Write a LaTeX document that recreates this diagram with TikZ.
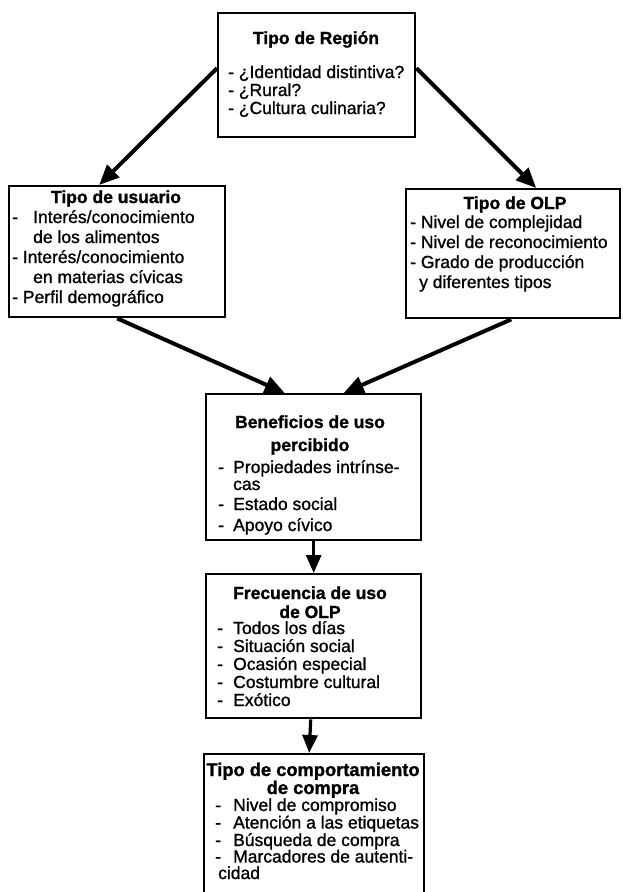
\documentclass[tikz,border=0pt]{standalone}
\usepackage{fontspec}
\setmainfont{Liberation Sans}
\newfontfamily\itemfont{Liberation Sans}[FakeBold=1.1]
\newfontfamily\titlefont{Liberation Sans Bold}[FakeBold=1.3]
\usetikzlibrary{arrows.meta,calc}

% dash followed by a fixed gap before the item text
\newcommand{\dl}[1][15pt]{\makebox[#1][l]{-}}

\begin{document}
\begin{tikzpicture}[x=1pt,y=-1pt,
  box/.style={draw, line width=2.4pt, rectangle, inner sep=0pt, anchor=north west},
  ttl/.style={font=\titlefont\fontsize{17.5}{#1}\selectfont, align=center, inner sep=0pt, anchor=base},
  ttl/.default=19,
  itm/.style={font=\itemfont\fontsize{17.5}{#1}\selectfont, align=left, inner sep=0pt, anchor=base west},
  arr/.style={line width=4pt, -{Triangle[length=20pt,width=17pt]}},
  varr/.style={line width=3.2pt, -{Triangle[length=18pt,width=15pt]}}
]
\useasboundingbox (0,0) rectangle (622,892);

% boxes
\node[box, minimum width=197pt, minimum height=124pt] (region) at (217,12) {};
\node[box, minimum width=216pt, minimum height=131pt] (user)   at (8,185) {};
\node[box, minimum width=214pt, minimum height=129pt] (olp)    at (405,188) {};
\node[box, minimum width=215pt, minimum height=146pt] (ben)    at (205,393) {};
\node[box, minimum width=215pt, minimum height=144pt] (freq)   at (205,573) {};
\node[box, minimum width=220pt, minimum height=160pt] (buy)    at (203,753) {};

% multi-line texts are anchored at the baseline of their last line

% Tipo de Región
\node[ttl] (region-t) at (316,44) {Tipo de Región};
\node[itm=18] (region-i) at (228,114) {- ¿Identidad distintiva?\\- ¿Rural?\\- ¿Cultura culinaria?};

% Tipo de usuario
\node[ttl] (user-t) at (116,203) {Tipo de usuario};
\node[itm=20] (user-i) at (12,303) {\dl[21pt]Interés/conocimiento\\\hspace*{21pt}de los alimentos\\- Interés/conocimiento\\\hspace*{21pt}en materias cívicas\\- Perfil demográfico};

% Tipo de OLP
\node[ttl] (olp-t) at (515,209) {Tipo de OLP};
\node[itm=20] (olp-i) at (410,288) {- Nivel de complejidad\\- Nivel de reconocimiento\\- Grado de producción\\\hspace*{9pt}y diferentes tipos};

% Beneficios de uso percibido
\node[ttl=23] (ben-t) at (310,451) {Beneficios de uso\\percibido};
\node[itm=19] (ben-i) at (218,531) {\dl Propiedades intrínse-\\[-2pt]\hspace*{15pt}cas\\[1pt]\dl Estado social\\[2pt]\dl Apoyo cívico};

% Frecuencia de uso de OLP
\node[ttl] (freq-t) at (310,618) {Frecuencia de uso\\de OLP};
\node[itm=18] (freq-i) at (217,706) {\dl[16pt]Todos los días\\\dl[16pt]Situación social\\\dl[16pt]Ocasión especial\\\dl[16pt]Costumbre cultural\\\dl[16pt]Exótico};

% Tipo de comportamiento de compra
\node[ttl=18, font=\titlefont\fontsize{18.3}{18}\selectfont] (buy-t) at (313,794) {Tipo de comportamiento\\de compra};
\node[itm=16.5] (buy-i) at (215,879) {\dl[18pt]Nivel de compromiso\\\dl[18pt]Atención a las etiquetas\\\dl[18pt]Búsqueda de compra\\\dl[18pt]Marcadores de autenti-\\\hspace*{3pt}cidad};

% connectors
\draw[arr] ([yshift=7pt]region.west) -- ($(user.north)+(-18,0)$);
\draw[arr] ([yshift=7pt]region.east) -- ($(olp.north)+(23,0)$);
\draw[arr] (user.south) -- ($(ben.north)+(-29,0)$);
\draw[arr] ($(olp.south)+(-2,0)$) -- ($(ben.north)+(30,0)$);
\draw[varr] (ben.south) -- (freq.north);
\draw[varr] ($(freq.south)+(-3,0)$) -- ($(buy.north)+(-5,0)$);
\end{tikzpicture}
\end{document}
